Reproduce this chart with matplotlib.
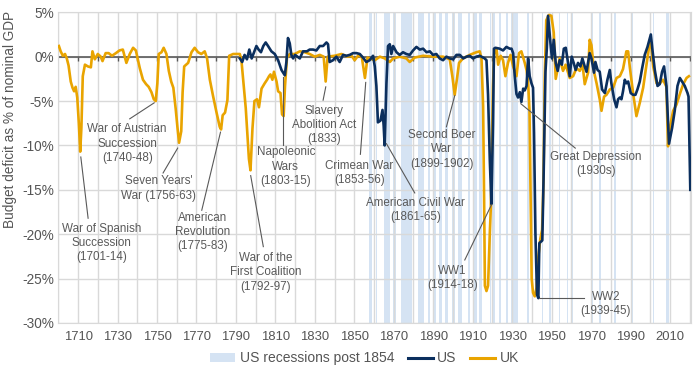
import numpy as np
import matplotlib.pyplot as plt
from matplotlib.patches import Patch
from matplotlib.lines import Line2D

plt.rcParams['font.family'] = ['Liberation Sans', 'DejaVu Sans']

# UK budget balance, % of GDP
uk_year = [1700.3, 1701.2, 1702.3, 1703.4, 1704.3, 1705.2, 1706.3, 1707.2, 1708.0, 1708.8,
           1709.6, 1710.4, 1711.1, 1711.7, 1712.4, 1713.5, 1715.0, 1716.5, 1717.3, 1718.5,
           1720.0, 1721.5, 1722.4, 1724.0, 1725.5, 1727.2, 1729.2, 1731.0, 1732.7, 1734.5,
           1736.2, 1737.9, 1739.3, 1740.3, 1741.3, 1742.9, 1744.5, 1745.8, 1747.2, 1748.4,
           1749.4, 1750.2, 1750.9, 1752.3, 1753.4, 1754.8, 1756.0, 1757.2, 1758.3, 1759.5,
           1760.4, 1761.2, 1762.3, 1763.0, 1763.8, 1765.8, 1767.5, 1769.1, 1770.8, 1772.5,
           1774.2, 1775.4, 1776.8, 1778.4, 1780.1, 1781.8, 1782.5, 1783.3, 1784.5, 1785.7,
           1786.6, 1788.6, 1790.3, 1792.0, 1792.8, 1794.0, 1795.0, 1795.8, 1796.6, 1797.4,
           1798.4, 1799.4, 1800.7, 1801.7, 1803.0, 1804.6, 1805.8, 1806.8, 1807.5, 1808.5,
           1809.3, 1810.6, 1811.4, 1812.6, 1813.4, 1814.2, 1814.9, 1815.9, 1817.3, 1819.8,
           1822.4, 1824.9, 1827.4, 1830.0, 1832.5, 1834.5, 1835.5, 1836.5, 1840.0, 1843.5,
           1846.7, 1848.6, 1850.2, 1851.9, 1853.8, 1855.4, 1856.7, 1858.0, 1860.4, 1863.0,
           1865.5, 1868.0, 1869.7, 1873.0, 1876.4, 1878.1, 1880.6, 1884.9, 1890.0, 1895.0,
           1898.4, 1899.7, 1900.9, 1902.1, 1903.1, 1905.1, 1908.5, 1911.9, 1913.6, 1914.5,
           1915.3, 1915.8, 1916.2, 1917.0, 1917.8, 1918.7, 1919.2, 1919.8, 1920.3, 1920.9,
           1922.1, 1922.9, 1924.2, 1925.4, 1926.6, 1927.9, 1929.2, 1930.5, 1932.2, 1933.5,
           1934.7, 1936.4, 1937.3, 1938.1, 1938.8, 1939.3, 1939.9, 1940.6, 1941.5, 1942.4,
           1943.3, 1944.3, 1945.2, 1945.9, 1946.5, 1947.3, 1948.6, 1949.9, 1951.1, 1952.1,
           1954.1, 1955.8, 1957.1, 1959.2, 1960.9, 1962.6, 1964.3, 1965.7, 1966.8, 1968.5,
           1969.3, 1970.2, 1971.6, 1972.8, 1974.4, 1975.3, 1976.6, 1977.8, 1979.5, 1981.2,
           1982.9, 1984.6, 1986.2, 1987.9, 1988.8, 1989.6, 1991.3, 1993.0, 1994.7, 1996.4,
           1998.1, 1999.8, 2000.6, 2001.5, 2003.2, 2004.9, 2006.5, 2008.2, 2009.0, 2009.9,
           2011.6, 2013.3, 2015.0, 2016.7, 2018.4, 2019.6]
uk_val = [1.2, 0.6, 0.1, 0.3, -0.2, -1.0, -2.8, -3.5, -3.9, -3.4,
          -4.6, -7.5, -10.7, -8.0, -2.2, -0.9, -1.1, -1.2, 0.6, -0.3,
          0.3, 0.0, -0.5, 0.4, 0.4, 0.1, 0.4, 0.7, 0.8, -0.7,
          0.3, 1.0, 0.7, -0.3, -1.3, -2.6, -3.1, -3.4, -4.0, -4.8,
          -5.0, -3.0, 0.3, 0.5, 1.0, 0.3, -1.6, -2.8, -3.5, -5.9,
          -8.0, -9.7, -8.4, -4.0, -1.1, -0.7, 0.5, 1.0, 0.5, 0.3,
          0.6, -0.2, -2.6, -4.4, -6.2, -7.9, -8.2, -6.6, -6.3, -4.9,
          0.1, 0.3, 0.3, 0.3, -0.4, -3.4, -5.8, -8.6, -11.5, -12.8,
          -8.1, -5.0, -4.8, -5.7, -3.6, -3.0, -2.6, -2.2, -2.0, -2.6,
          -1.7, -2.8, -3.9, -4.1, -6.5, -6.7, -3.3, -0.1, 0.3, 0.3,
          0.6, 0.5, 0.3, 0.0, 0.2, 0.0, -2.8, 0.0, 0.1, 0.3,
          0.0, 0.1, -0.4, 0.1, 0.0, -2.4, -0.1, -0.2, -0.4, 0.0,
          -0.2, -0.6, -0.2, 0.0, -0.2, -0.6, -0.1, 0.1, 0.0, 0.0,
          -0.3, -2.2, -4.3, -2.4, -0.7, -0.2, 0.2, 0.5, 0.6, -0.3,
          -5.6, -16.0, -25.8, -26.4, -25.8, -19.8, -17.0, -9.6, -3.3, 0.3,
          0.9, -0.9, 0.1, -0.4, -2.2, -0.7, 0.2, -1.1, -2.2, 0.4,
          0.6, -0.7, -1.5, -2.9, -6.0, -15.0, -25.0, -26.6, -27.0, -26.0,
          -22.5, -20.5, -19.5, -14.0, -2.6, 4.1, 4.7, 4.6, 2.7, -2.5,
          -0.2, -1.6, -0.9, -2.4, -2.2, -1.3, -1.6, -0.9, -3.1, -1.8,
          1.9, 1.3, -1.8, -3.0, -4.8, -6.1, -4.5, -4.3, -3.7, -3.5,
          -2.4, -2.2, -1.4, 0.6, 0.6, -1.1, -4.1, -6.7, -5.2, -3.5,
          -0.9, 1.7, 1.1, -1.1, -3.0, -3.0, -2.6, -3.4, -10.1, -8.0,
          -6.1, -5.4, -4.2, -3.1, -2.4, -2.2]

# US budget balance, % of GDP
us_year = [1792.0, 1793.2, 1794.4, 1795.6, 1796.8, 1798.0, 1799.2, 1800.4, 1801.5, 1802.7,
           1803.9, 1805.1, 1806.3, 1808.0, 1809.7, 1811.4, 1813.1, 1814.8, 1815.6, 1816.4,
           1817.3, 1818.1, 1819.0, 1820.0, 1822.4, 1824.0, 1826.0, 1827.4, 1829.1, 1830.8,
           1832.5, 1834.2, 1835.9, 1836.7, 1837.5, 1839.2, 1840.9, 1842.6, 1844.3, 1846.0,
           1847.7, 1849.4, 1851.1, 1852.8, 1854.4, 1856.1, 1857.8, 1859.5, 1860.4, 1861.2,
           1862.0, 1863.3, 1864.3, 1864.9, 1865.4, 1866.3, 1867.1, 1868.0, 1868.8, 1869.7,
           1871.4, 1873.0, 1874.7, 1876.4, 1878.1, 1879.8, 1881.5, 1883.2, 1884.9, 1886.6,
           1888.3, 1889.9, 1891.6, 1893.3, 1895.0, 1896.7, 1898.4, 1900.1, 1901.8, 1903.5,
           1905.2, 1906.9, 1908.5, 1910.2, 1911.9, 1913.6, 1915.3, 1916.1, 1917.0, 1917.8,
           1918.7, 1919.5, 1920.3, 1920.8, 1921.5, 1923.7, 1925.4, 1927.1, 1928.8, 1929.7,
           1930.5, 1931.3, 1932.2, 1933.0, 1933.9, 1934.7, 1935.6, 1936.4, 1937.3, 1938.1,
           1938.9, 1939.8, 1940.6, 1941.1, 1941.8, 1942.6, 1943.3, 1943.8, 1945.3, 1946.0,
           1946.9, 1947.6, 1948.2, 1949.4, 1950.2, 1951.1, 1952.1, 1953.1, 1954.1, 1955.2,
           1956.2, 1957.2, 1958.2, 1959.2, 1960.2, 1961.2, 1962.2, 1963.4, 1964.6, 1965.6,
           1966.8, 1967.7, 1969.3, 1970.2, 1971.5, 1972.2, 1973.3, 1974.4, 1975.6, 1977.0,
           1978.3, 1979.5, 1980.3, 1981.7, 1982.9, 1983.7, 1984.6, 1985.4, 1986.2, 1987.1,
           1987.9, 1988.8, 1990.1, 1991.3, 1992.5, 1993.5, 1994.7, 1995.9, 1997.2, 1998.6,
           2000.3, 2001.1, 2002.3, 2003.7, 2004.8, 2006.0, 2007.0, 2008.2, 2009.5, 2011.1,
           2012.4, 2013.8, 2015.0, 2016.1, 2017.5, 2018.9, 2019.4, 2020.3]
us_val = [-0.2, -0.6, 0.2, -0.3, 0.8, -0.2, 0.5, 1.2, 0.8, 0.5,
          1.2, 1.6, 1.2, 0.6, 0.3, -0.4, -1.5, -2.1, -0.6, 2.1,
          1.5, 0.2, -0.2, 0.2, -0.2, 0.6, 0.6, 0.8, 0.8, 0.7,
          1.2, 1.2, 1.6, 1.4, -0.6, -0.4, 0.0, -0.6, 0.2, 0.1,
          0.2, 0.4, 0.4, 0.3, -0.1, -0.6, -0.4, 0.1, -1.1, -3.3,
          -7.4, -7.2, -6.0, -7.8, -10.0, -3.0, 1.2, 1.4, 0.3, 1.2,
          0.5, 0.2, 0.5, 0.3, 0.2, 0.7, 1.1, 0.8, 0.9, 0.5,
          0.6, 0.2, 0.3, -0.2, -0.4, 0.0, -0.2, -0.3, 0.2, 0.2,
          -0.2, 0.0, 0.1, -0.2, 0.0, 0.1, -0.1, -0.2, -0.4, -4.3,
          -11.7, -16.6, -7.6, 0.9, 1.0, 0.9, 0.7, 1.1, 0.9, 0.9,
          0.4, -2.1, -4.2, -4.6, -4.0, -5.1, -3.6, -3.8, -3.3, -0.2,
          -2.2, -3.0, -3.5, -8.6, -19.8, -26.8, -27.2, -21.0, -20.7, -13.0,
          -1.7, 1.0, 4.6, 1.6, -0.2, 1.9, -0.7, -1.6, -0.4, -0.9,
          0.9, 1.0, -0.5, -2.2, 0.0, -0.7, -1.5, -0.7, -1.1, -0.2,
          -1.1, -1.7, 0.4, -0.2, -1.8, -0.6, -1.5, -1.7, -3.7, -4.1,
          -2.6, -1.5, -3.0, -4.8, -5.7, -4.8, -4.6, -4.8, -3.9, -2.6,
          -3.0, -2.8, -4.1, -4.3, -4.3, -3.7, -2.8, -1.3, 0.2, 1.1,
          2.5, 0.8, -1.5, -3.3, -3.1, -1.7, -1.1, -3.3, -9.8, -8.0,
          -6.1, -3.3, -2.4, -2.8, -3.3, -4.1, -4.5, -15.0]

# NBER US recessions after 1854 (start, end)
rec_start = [1857.45, 1860.80, 1865.30, 1869.45, 1873.80, 1882.20, 1887.20, 1890.55, 1893.05,
             1895.95, 1899.45, 1902.70, 1907.40, 1910.05, 1913.05, 1918.60, 1920.05, 1923.40,
             1926.80, 1929.60, 1937.40, 1945.10, 1948.85, 1953.55, 1957.60, 1960.30, 1969.95,
             1973.85, 1980.05, 1981.55, 1990.55, 2001.20, 2007.95, 2020.10]
rec_end = [1858.95, 1861.45, 1867.95, 1870.95, 1879.20, 1885.40, 1888.30, 1891.40, 1894.45,
           1897.45, 1900.95, 1904.60, 1908.45, 1912.05, 1914.95, 1919.20, 1921.55, 1924.55,
           1927.85, 1933.20, 1938.45, 1945.80, 1949.80, 1954.40, 1958.30, 1961.10, 1970.85,
           1975.20, 1980.55, 1982.85, 1991.20, 2001.85, 2009.45, 2020.30]

# annotation labels
events = ['War of Spanish\nSuccession\n(1701-14)',
          'War of Austrian\nSuccession\n(1740-48)',
          "Seven Years'\nWar (1756-63)",
          'American\nRevolution\n(1775-83)',
          'War of the\nFirst Coalition\n(1792-97)',
          'Napoleonic\nWars\n(1803-15)',
          'Slavery\nAbolition Act\n(1833)',
          'Crimean War\n(1853-56)',
          'American Civil War\n(1861-65)',
          'Second Boer\nWar\n(1899-1902)',
          'Great Depression\n(1930s)',
          'WW1\n(1914-18)',
          'WW2\n(1939-45)']

# layout: text centre, leader start, leader end (data coords)
layout = [((1721.9, -21.0), (1715.1, -18.2), (1711.4, -11.3)),
          ((1734.9, -9.8), (1736.2, -7.0), (1748.6, -5.2)),
          ((1750.8, -14.85), (1753.1, -13.1), (1760.5, -10.3)),
          ((1773.0, -19.75), (1772.7, -17.3), (1782.2, -8.5)),
          ((1805.1, -24.3), (1803.9, -21.4), (1797.5, -13.4)),
          ((1815.3, -12.4), (1813.9, -10.0), (1813.9, -2.3)),
          ((1834.9, -7.7), (1834.2, -4.9), (1835.55, -3.4)),
          ((1852.5, -13.1), (1853.1, -11.0), (1855.8, -2.9)),
          ((1881.2, -17.3), (1880.65, -15.35), (1866.3, -9.8)),
          ((1894.3, -10.45), (1896.7, -7.9), (1900.9, -4.4)),
          ((1972.5, -12.1), (1962.0, -10.3), (1934.4, -5.3)),
          ((1899.7, -24.9), (1906.0, -22.9), (1919.5, -16.7)),
          ((1977.5, -27.9), (1966.3, -27.2), (1943.5, -27.2))]

uk_col = '#E9A400'
us_col = '#0B2F5E'
rec_col = '#D5E3F3'
grid_col = '#D9D9D9'
txt_col = '#5A5A5A'

fig = plt.figure(figsize=(7, 3.71), dpi=100)
ax = fig.add_axes([0.0833, 0.1294, 0.9034, 0.8375])

for s, e in zip(rec_start, rec_end):
    ax.axvspan(s, e, color=rec_col, lw=0, zorder=0.2)

ax.axhline(0, color='#595959', lw=1.2, zorder=1.5)
decades = np.arange(1710, 2021, 10)
ax.plot(decades, np.zeros(len(decades)), ls='none', marker=3, ms=3, mew=1,
        color='#595959', zorder=1.5)

ax.plot(uk_year, uk_val, color=uk_col, lw=1.9, zorder=3)
ax.plot(us_year, us_val, color=us_col, lw=1.9, zorder=4)

for label, (txt, p0, p1) in zip(events, layout):
    ax.text(txt[0], txt[1], label, ha='center', va='center', fontsize=8.4,
            color=txt_col, linespacing=1.25, zorder=5)
    ax.plot([p0[0], p1[0]], [p0[1], p1[1]], color='#595959', lw=0.8, zorder=5)

ax.set_xlim(1700, 2020.5)
ax.set_ylim(-30, 5)
ax.set_xticks(np.arange(1710, 2011, 20))
ax.set_xticks(np.arange(1700, 2021, 10), minor=True)
ax.set_yticks(np.arange(-30, 6, 5))
ax.set_yticklabels([f'{v}%' for v in range(-30, 6, 5)])
ax.tick_params(axis='both', which='both', length=0, colors='#555555')
ax.tick_params(axis='x', labelsize=9.4, pad=6)
ax.tick_params(axis='y', labelsize=9.8, pad=3)
ax.set_axisbelow(True)
ax.grid(True, which='both', color=grid_col, lw=1)
for sp in ax.spines.values():
    sp.set_color(grid_col)

ax.set_ylabel('Budget deficit as % of nominal GDP', fontsize=9.8, color='#555555')
ax.yaxis.set_label_coords(-0.066, 0.655)

handles = [Patch(facecolor=rec_col, edgecolor='none', label='US recessions post 1854'),
           Line2D([], [], color=us_col, lw=2.2, label='US'),
           Line2D([], [], color=uk_col, lw=2.2, label='UK')]
fig.legend(handles=handles, loc='center', bbox_to_anchor=(0.521, 0.034), ncol=3,
           frameon=False, fontsize=10, handlelength=1.8, handletextpad=0.3,
           columnspacing=1.0, labelcolor='#555555')

fig.savefig('out.png', dpi=100)
